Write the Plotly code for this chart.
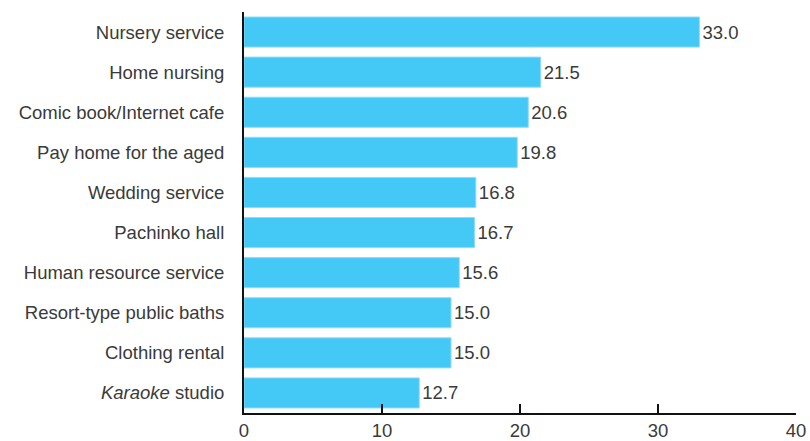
import plotly.graph_objects as go

categories = ["Nursery service", "Home nursing", "Comic book/Internet cafe",
              "Pay home for the aged", "Wedding service", "Pachinko hall",
              "Human resource service", "Resort-type public baths",
              "Clothing rental", "<i>Karaoke</i> studio"]
values = [33.0, 21.5, 20.6, 19.8, 16.8, 16.7, 15.6, 15.0, 15.0, 12.7]
x_ticks = [0, 10, 20, 30, 40]

font_family = "Liberation Sans, Arial, sans-serif"
text_color = "#3a3a3a"
fs = 18.5

fig = go.Figure(go.Bar(
    y=categories, x=values, orientation="h",
    marker=dict(color="#44C8F5", line=dict(color="#8fdcf8", width=1)),
    width=0.75,
    text=[f"{v:.1f}" for v in values], textposition="outside",
    textfont=dict(family=font_family, size=fs, color=text_color),
    cliponaxis=False,
))

fig.update_layout(
    width=810, height=441,
    margin=dict(l=244, r=14, t=12, b=28),
    paper_bgcolor="white", plot_bgcolor="white",
    showlegend=False,
    font=dict(family=font_family, size=fs, color=text_color),
    xaxis=dict(range=[0, 40], tickvals=x_ticks, ticks="inside", ticklen=9,
               tickwidth=2, tickcolor="#111", showline=True, linecolor="#111",
               linewidth=2, showgrid=False, zeroline=False, automargin=False,
               tickfont=dict(size=fs, color=text_color)),
    yaxis=dict(autorange="reversed", showline=True, linecolor="#111", linewidth=2,
               showgrid=False, ticks="", ticklabelstandoff=14, automargin=False,
               tickfont=dict(size=fs, color=text_color)),
)

fig.write_html("out.html")
